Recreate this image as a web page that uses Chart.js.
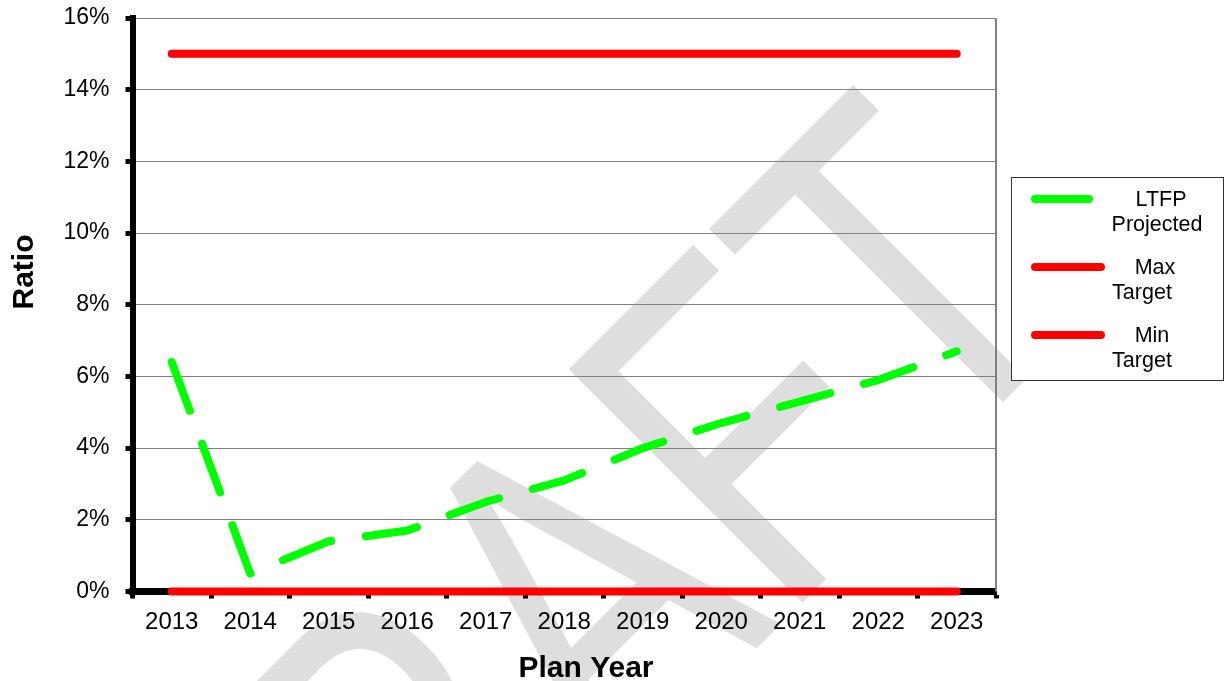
<!DOCTYPE html>
<html>
<head>
<meta charset="utf-8">
<script src="https://cdn.jsdelivr.net/npm/chart.js@4"></script>
<style>
html,body{margin:0;padding:0;background:#fff}
</style>
</head>
<body>
<canvas id="chart" width="1225" height="681"></canvas>
<script>
// chart data
var years=["2013","2014","2015","2016","2017","2018","2019","2020","2021","2022","2023"]
var ltfpProjected=[6.4,0.5,1.4,1.7,2.5,3.1,4.0,4.7,5.3,5.9,6.7]
var maxTarget=[15,15,15,15,15,15,15,15,15,15,15]
var minTarget=[0,0,0,0,0,0,0,0,0,0,0]
var yTicks=[0,2,4,6,8,10,12,14,16]

var font_family="'Liberation Sans', Arial, sans-serif"
var green="rgb(0,255,0)"
var red="rgb(255,0,0)"

// white page + big grey DRAFT behind everything
const watermark={
    id:'watermark',
    beforeDraw:(chart)=>{
        const {ctx}=chart
        ctx.save()
        ctx.fillStyle='#fff'
        ctx.fillRect(0,0,chart.width,chart.height)
        ctx.translate(244,1161)
        ctx.rotate(-Math.PI/4)
        ctx.scale(0.75,1)
        ctx.fillStyle='#dedede'
        ctx.font="480px "+font_family
        ctx.textAlign='left'
        ctx.textBaseline='alphabetic'
        ctx.fillText('DRAFT',0,0)
        ctx.restore()
    }
}

// right border, axis titles and the boxed legend
const extras={
    id:'extras',
    beforeDatasetsDraw:(chart)=>{
        const {ctx,chartArea}=chart
        ctx.save()
        ctx.strokeStyle='#808080'
        ctx.lineWidth=2
        ctx.beginPath()
        ctx.moveTo(chartArea.right,chartArea.top)
        ctx.lineTo(chartArea.right,chartArea.bottom)
        ctx.stroke()
        ctx.restore()
    },
    afterDraw:(chart)=>{
        const {ctx}=chart
        ctx.save()
        ctx.fillStyle='#000'
        ctx.font="bold 30px "+font_family
        ctx.textAlign='center'
        ctx.textBaseline='middle'
        ctx.translate(25,272)
        ctx.rotate(-Math.PI/2)
        ctx.fillText('Ratio',0,0)
        ctx.restore()

        ctx.save()
        ctx.fillStyle='#000'
        ctx.font="bold 30px "+font_family
        ctx.textAlign='center'
        ctx.textBaseline='alphabetic'
        ctx.fillText('Plan Year',586,677)
        ctx.restore()

        // legend
        ctx.save()
        ctx.fillStyle='#fff'
        ctx.fillRect(1011.5,177.5,212,203)
        ctx.strokeStyle='#333'
        ctx.lineWidth=1
        ctx.strokeRect(1011.5,177.5,212,203)
        ctx.lineCap='round'
        ctx.lineWidth=8
        var items=[
            {color:green,len:60,y:199,lines:[['LTFP',1161,200],['Projected',1157,225]]},
            {color:red,len:72,y:267,lines:[['Max',1155,268],['Target',1142,293]]},
            {color:red,len:72,y:335,lines:[['Min',1152,336],['Target',1142,361]]}
        ]
        ctx.font="21.5px "+font_family
        ctx.textAlign='center'
        ctx.textBaseline='middle'
        items.forEach(it=>{
            ctx.strokeStyle=it.color
            ctx.beginPath()
            ctx.moveTo(1035,it.y)
            ctx.lineTo(1035+it.len-6,it.y)
            ctx.stroke()
            ctx.fillStyle='#000'
            it.lines.forEach(l=>ctx.fillText(l[0],l[1],l[2]))
        })
        ctx.restore()
    }
}

var config={
    type:'line',
    data:{
        labels:years,
        datasets:[
            {label:'LTFP Projected',data:ltfpProjected,borderColor:green,borderWidth:8,borderDash:[52,35],borderCapStyle:'round',borderJoinStyle:'round',pointRadius:0,tension:0,clip:false},
            {label:'Max Target',data:maxTarget,borderColor:red,borderWidth:8,borderCapStyle:'round',pointRadius:0,tension:0,clip:false},
            {label:'Min Target',data:minTarget,borderColor:red,borderWidth:8,borderCapStyle:'round',pointRadius:0,tension:0,clip:false}
        ]
    },
    options:{
        responsive:false,
        animation:false,
        layout:{padding:{left:0,top:18,right:229,bottom:0}},
        plugins:{
            legend:{display:false},
            tooltip:{enabled:false}
        },
        scales:{
            x:{
                offset:true,
                grid:{offset:true,drawOnChartArea:false,color:'#000',tickColor:'#000',tickLength:7,tickWidth:5},
                border:{color:'#000',width:7},
                ticks:{color:'#000',font:{family:font_family,size:24},padding:9,maxRotation:0,autoSkip:false},
                afterFit:(s)=>{s.height=681-591.5;s.paddingLeft=0;s.paddingRight=0}
            },
            y:{
                min:0,
                max:16,
                afterBuildTicks:(s)=>{s.ticks=yTicks.map(v=>({value:v}))},
                grid:{color:'#808080',lineWidth:1,tickColor:'#000',tickLength:7,tickWidth:5},
                border:{color:'#000',width:6},
                ticks:{color:'#000',font:{family:font_family,size:23},padding:16,callback:(v)=>v+'%'},
                afterFit:(s)=>{s.width=132.5;s.paddingTop=0;s.paddingBottom=0}
            }
        }
    },
    plugins:[watermark,extras]
}

var chart=new Chart(document.getElementById('chart'),config)
</script>
</body>
</html>
